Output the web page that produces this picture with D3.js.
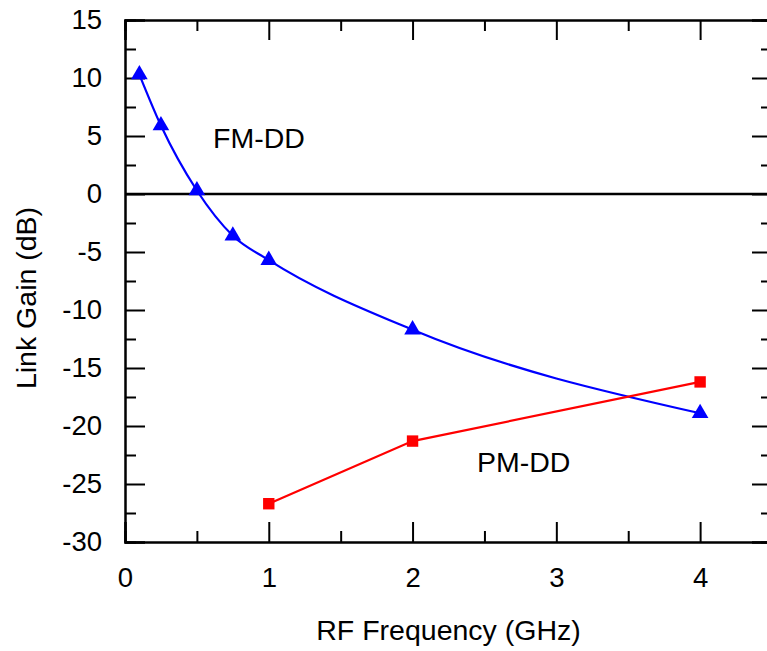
<!DOCTYPE html>
<html>
<head>
<meta charset="utf-8">
<script src="https://cdn.jsdelivr.net/npm/d3@7/dist/d3.min.js"></script>
<style>
  html, body { margin: 0; padding: 0; background: #fff; }
  svg { display: block; }
  text { font-family: Arial, "Liberation Sans", sans-serif; fill: #000; }
</style>
</head>
<body>
<svg id="chart" width="767" height="651"></svg>
<script>
// ---- data ----
const fmFreq = [0.1, 0.25, 0.5, 0.75, 1, 2, 4];
const fmGain = [10.3, 5.9, 0.3, -3.6, -5.7, -11.7, -18.9];
const pmFreq = [1, 2, 4];
const pmGain = [-26.7, -21.3, -16.2];
const xTicks = [0, 1, 2, 3, 4];
const yTicks = [-30, -25, -20, -15, -10, -5, 0, 5, 10, 15];
const xTitle = "RF Frequency (GHz)";
const yTitle = "Link Gain (dB)";
const fmLabel = "FM-DD";
const pmLabel = "PM-DD";

const svg = d3.select("#chart");
const L = 125, R = 772, T = 20, B = 542;
const x = d3.scaleLinear().domain([0, 4.5]).range([L, R]);
const y = d3.scaleLinear().domain([-30, 15]).range([B, T]);

const fs = 27.5;
const fmt = d => String(d);

function styleAxis(g) {
  g.select(".domain").attr("stroke", "#000").attr("stroke-width", 2);
  g.selectAll(".tick line").attr("stroke", "#000").attr("stroke-width", 2);
  g.selectAll(".tick text").attr("font-size", fs).attr("font-family", "Arial, 'Liberation Sans', sans-serif");
}

const xMinor = d3.range(0, 4.51, 0.5).filter(v => Math.abs(v - Math.round(v)) > 1e-6);
const yMinor = d3.range(-30, 15.01, 2.5).filter(v => Math.abs(v / 5 - Math.round(v / 5)) > 1e-6);

// minor ticks
svg.append("g").attr("transform", `translate(0,${B})`)
  .call(d3.axisBottom(x).tickValues(xMinor).tickSize(-11).tickFormat(""))
  .call(styleAxis);
svg.append("g").attr("transform", `translate(0,${T})`)
  .call(d3.axisTop(x).tickValues(xMinor).tickSize(-11).tickFormat(""))
  .call(styleAxis);
svg.append("g").attr("transform", `translate(${L},0)`)
  .call(d3.axisLeft(y).tickValues(yMinor).tickSize(-11).tickFormat(""))
  .call(styleAxis);
svg.append("g").attr("transform", `translate(${R},0)`)
  .call(d3.axisRight(y).tickValues(yMinor).tickSize(-11).tickFormat(""))
  .call(styleAxis);

// major ticks
svg.append("g").attr("transform", `translate(0,${B})`)
  .call(d3.axisBottom(x).tickValues(xTicks).tickSize(-20).tickPadding(25).tickFormat(fmt))
  .call(styleAxis);
svg.append("g").attr("transform", `translate(0,${T})`)
  .call(d3.axisTop(x).tickValues(xTicks).tickSize(-20).tickFormat(""))
  .call(styleAxis);
svg.append("g").attr("transform", `translate(${L},0)`)
  .call(d3.axisLeft(y).tickValues(yTicks).tickSize(-20).tickPadding(23).tickFormat(fmt))
  .call(styleAxis);
svg.append("g").attr("transform", `translate(${R},0)`)
  .call(d3.axisRight(y).tickValues(yTicks).tickSize(-20).tickFormat(""))
  .call(styleAxis);

// zero line
svg.append("line")
  .attr("x1", L).attr("x2", R).attr("y1", y(0)).attr("y2", y(0))
  .attr("stroke", "#000").attr("stroke-width", 2.5);

const fmData = fmFreq.map((f, i) => [f, fmGain[i]]);
const pmData = pmFreq.map((f, i) => [f, pmGain[i]]);

svg.append("path")
  .datum(fmData)
  .attr("fill", "none").attr("stroke", "#0000ff").attr("stroke-width", 2.2)
  .attr("d", d3.line().x(d => x(d[0])).y(d => y(d[1])).curve(d3.curveMonotoneX));

svg.append("path")
  .datum(pmData)
  .attr("fill", "none").attr("stroke", "#ff0000").attr("stroke-width", 2.2)
  .attr("d", d3.line().x(d => x(d[0])).y(d => y(d[1])));

svg.selectAll(".tri").data(fmData).enter().append("path")
  .attr("transform", d => `translate(${x(d[0])},${y(d[1])})`)
  .attr("d", d3.symbol().type(d3.symbolTriangle).size(120))
  .attr("fill", "#0000ff");

svg.selectAll(".sq").data(pmData).enter().append("path")
  .attr("transform", d => `translate(${x(d[0])},${y(d[1])})`)
  .attr("d", d3.symbol().type(d3.symbolSquare).size(130))
  .attr("fill", "#ff0000");

// labels
svg.append("text").attr("x", 213).attr("y", 148).attr("font-size", 28.5).text(fmLabel);
svg.append("text").attr("x", 477).attr("y", 472).attr("font-size", 28.5).text(pmLabel);

// axis titles
svg.append("text").attr("x", (L + R) / 2).attr("y", 640).attr("text-anchor", "middle")
  .attr("font-size", 28.5).text(xTitle);
svg.append("text").attr("transform", `translate(36,298) rotate(-90)`).attr("text-anchor", "middle")
  .attr("font-size", 28.5).text(yTitle);
</script>
</body>
</html>
